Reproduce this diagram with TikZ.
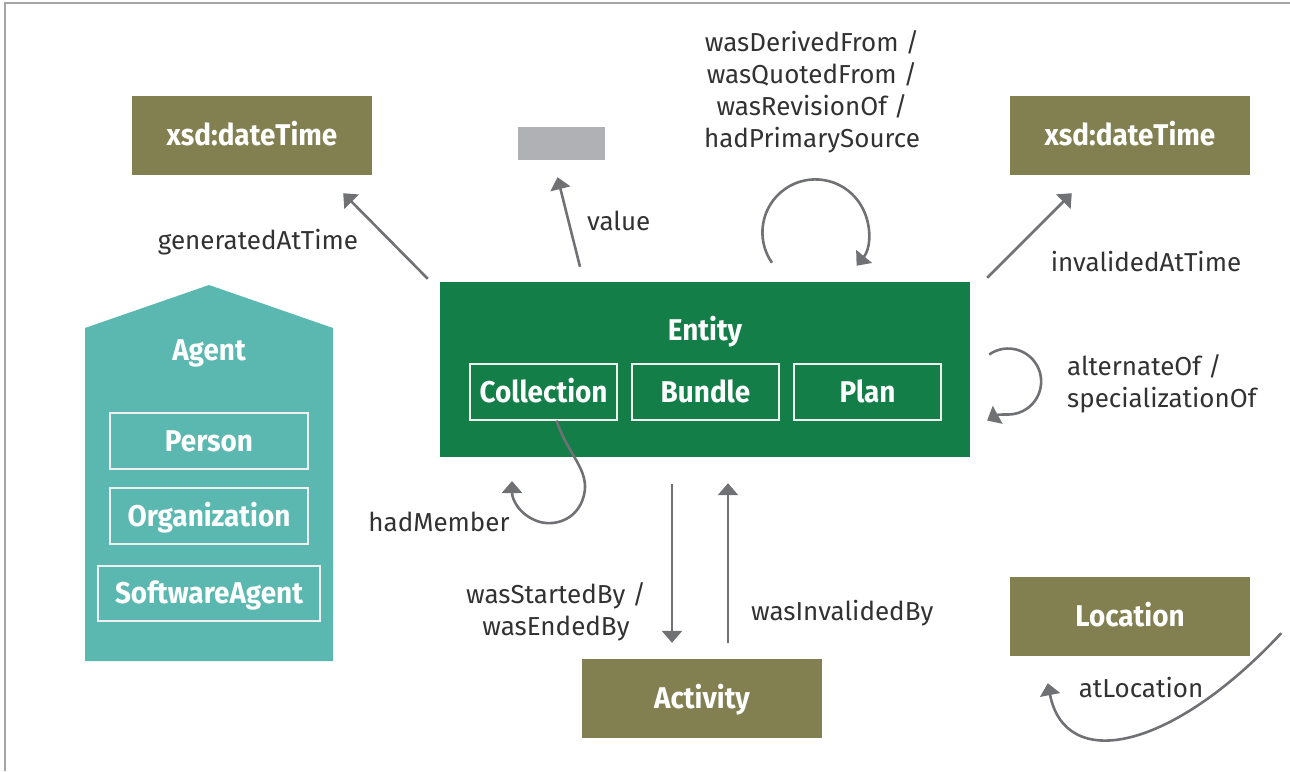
\documentclass[tikz,border=0pt]{standalone}
\usepackage{fontspec}
\setmainfont{Fira Sans}
\newfontfamily\classfont{Fira Sans}[FakeStretch=0.93]
\usetikzlibrary{arrows.meta,calc}

\definecolor{provolive}{RGB}{130,128,80}
\definecolor{provgreen}{RGB}{20,126,72}
\definecolor{provteal}{RGB}{91,184,176}
\definecolor{valgray}{RGB}{176,177,180}
\definecolor{arrgray}{RGB}{112,113,116}
\definecolor{labelgray}{RGB}{50,50,50}
\definecolor{framegray}{RGB}{165,165,165}

\begin{document}
\begin{tikzpicture}[x=1pt,y=-1pt,
  lbl/.style={font=\fontsize{26}{32}\selectfont, text=labelgray, inner sep=0pt},
  onelbl/.style={lbl, text height=18pt, text depth=0pt},
  boldtxt/.style={font=\classfont\fontsize{30}{34}\selectfont\bfseries, text=white, text height=20.5pt, text depth=0pt},
  cls/.style={fill=provolive, minimum width=240pt, minimum height=79pt, inner sep=0pt},
  sub/.style={draw=white!88!gray, line width=1.3pt, minimum height=56pt, inner sep=0pt},
  arr/.style={draw=arrgray, line width=2.6pt, -{Triangle[length=12pt,width=20pt]}},
]
\useasboundingbox (0,0) rectangle (1290,771);

% frame
\draw[framegray, line width=2.5pt] (5,771) -- (5,3) -- (1290,3);

% time literals and value
\node[cls] (dtgen) at (252,135.5) {};
\node[boldtxt] at (dtgen) {xsd:dateTime};
\node[cls] (dtinv) at (1130,135.5) {};
\node[boldtxt] at (dtinv) {xsd:dateTime};
\node[fill=valgray, minimum width=87pt, minimum height=33pt, inner sep=0pt] (val) at (561.5,143.5) {};

% entity with its subclasses
\node[fill=provgreen, minimum width=530pt, minimum height=175pt, inner sep=0pt] (entity) at (705,369.5) {};
\node[boldtxt] (entlbl) at (705,330) {Entity};
\node[sub, minimum width=147pt] (coll) at (543.5,392) {};
\node[boldtxt] at (coll) {Collection};
\node[sub, minimum width=147pt] (bundle) at (705.5,392) {};
\node[boldtxt] at (bundle) {Bundle};
\node[sub, minimum width=147pt] (plan) at (867.5,392) {};
\node[boldtxt] at (plan) {Plan};

% agent with its subclasses
\fill[provteal] (85,661) -- (85,328) -- (209,285) -- (333,328) -- (333,661) -- cycle;
\node[boldtxt] (agent) at (209,350) {Agent};
\node[sub, minimum width=198pt] (person) at (209,441) {};
\node[boldtxt] at (person) {Person};
\node[sub, minimum width=198pt] (org) at (209,516) {};
\node[boldtxt] at (org) {Organization};
\node[sub, minimum width=222pt, minimum height=55pt] (soft) at (209,593.5) {};
\node[boldtxt] at (soft) {SoftwareAgent};

% activity and location
\node[cls] (activity) at (702,698.5) {};
\node[boldtxt] at (activity) {Activity};
\node[cls] (location) at (1130,616.5) {};
\node[boldtxt] at (location) {Location};

% relations
\draw[arr] ([shift={(-12,-3)}]entity.north west) -- ([shift={(-29,18)}]dtgen.south east);
\node[onelbl] at (258,240) {generatedAtTime};

\draw[arr] ([shift={(-125,-15)}]entity.north) -- ([shift={(-4,17)}]val.south);
\node[onelbl, anchor=west] at (587,221) {value};

\draw[arr] ([shift={(17,-4)}]entity.north east) -- ([shift={(62,18)}]dtinv.south west);
\node[onelbl] at (1146,262) {invalidedAtTime};

\draw[arr] ([shift={(67,-19)}]entity.north) arc[start angle=145, end angle=399, radius=53];
\node[lbl, align=center] at (812,92) {wasDerivedFrom /\\wasQuotedFrom /\\wasRevisionOf /\\hadPrimarySource};

\draw[arr] ([shift={(19,-15)}]entity.east) arc[start angle=235, end angle=450, radius=33]
  .. controls +(-10,0) .. +(-21,6);
\node[lbl, align=left, anchor=west] at (1067,384) {alternateOf /\\specializationOf};

\draw[arr] ([xshift=13pt]coll.south) .. controls (568,455) and (590,470) .. (584,495)
  .. controls (578,520) and (555,526) .. (540,522)
  .. controls (520,516) and (512,500) .. (512,481);
\node[onelbl] at (439,522) {hadMember};

\draw[arr] ([shift={(-33,27)}]entity.south) -- ([shift={(-30,-16)}]activity.north);
\draw[arr] ([shift={(26,-16)}]activity.north) -- ([shift={(23,26)}]entity.south);
\node[lbl, align=center] at (556,612) {wasStartedBy /\\wasEndedBy};
\node[onelbl, anchor=west] at (751,611) {wasInvalidedBy};

\draw[arr] ([shift={(31,-23)}]location.south east) .. controls (1170,752) and (1065,772) .. ([shift={(38,27)}]location.south west);
\node[onelbl] at (1141,688) {atLocation};
\end{tikzpicture}
\end{document}
